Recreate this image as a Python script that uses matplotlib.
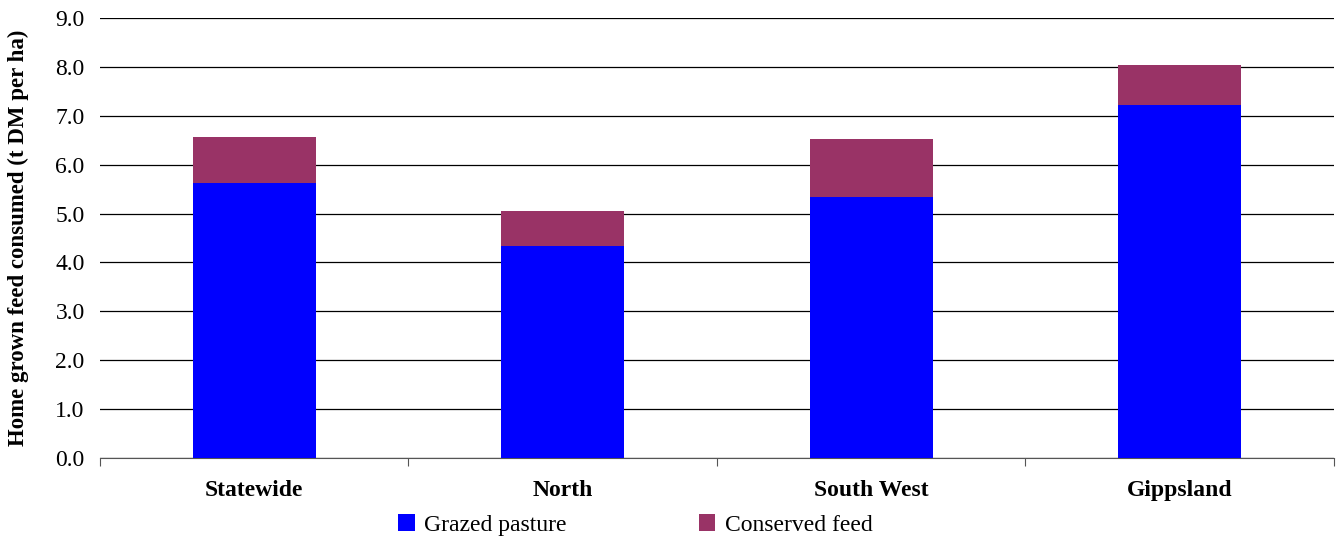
import matplotlib.pyplot as plt
import numpy as np

plt.rcParams['font.family'] = ['Liberation Serif', 'DejaVu Serif']

# regions and values (t DM per ha)
regions = ['Statewide', 'North', 'South West', 'Gippsland']
grazed = [5.62, 4.34, 5.34, 7.22]
conserved = [0.94, 0.71, 1.18, 0.82]

fig = plt.figure(figsize=(13.4, 5.41), dpi=100)
ax = fig.add_axes([0.0746, 0.1534, 0.9209, 0.8133])

x = np.arange(len(regions))
ax.bar(x, grazed, width=0.4, color='#0000FF', label='Grazed pasture', zorder=3)
ax.bar(x, conserved, width=0.4, bottom=grazed, color='#993366', label='Conserved feed', zorder=3)

ax.set_xlim(-0.5, len(regions) - 0.5)
ax.set_ylim(0, 9)
ax.set_yticks(np.arange(0, 9.1, 1.0))
ax.set_yticklabels([f'{v:.1f}' for v in np.arange(0, 9.1, 1.0)], fontsize=17)
ax.yaxis.grid(True, color='#000000', linewidth=0.9, zorder=0)
ax.tick_params(axis='y', length=0, pad=11)

# category boundary ticks
ax.set_xticks(np.arange(-0.5, len(regions), 1.0))
ax.set_xticklabels([])
ax.set_xticks(x, minor=True)
ax.set_xticklabels(regions, minor=True, fontsize=17, fontweight='bold')
ax.tick_params(axis='x', which='major', length=6, direction='out', color='#555555')
ax.tick_params(axis='x', which='minor', length=0, pad=16)

for side in ['left', 'right', 'top']:
    ax.spines[side].set_visible(False)
ax.spines['bottom'].set_color('#555555')

ax.set_ylabel('Home grown feed consumed (t DM per ha)', fontsize=16.5, fontweight='bold')
ax.yaxis.set_label_coords(-0.066, 0.5)
ax.yaxis.label.set_verticalalignment('center')

handles, labels = ax.get_legend_handles_labels()
fig.legend(handles, labels, loc='center left', bbox_to_anchor=(0.297, 0.03), ncol=2, frameon=False,
           fontsize=17, handlelength=0.7, handleheight=0.7, handletextpad=0.4, columnspacing=5.6,
           borderaxespad=0, borderpad=0)

fig.savefig('out.png', dpi=100)
